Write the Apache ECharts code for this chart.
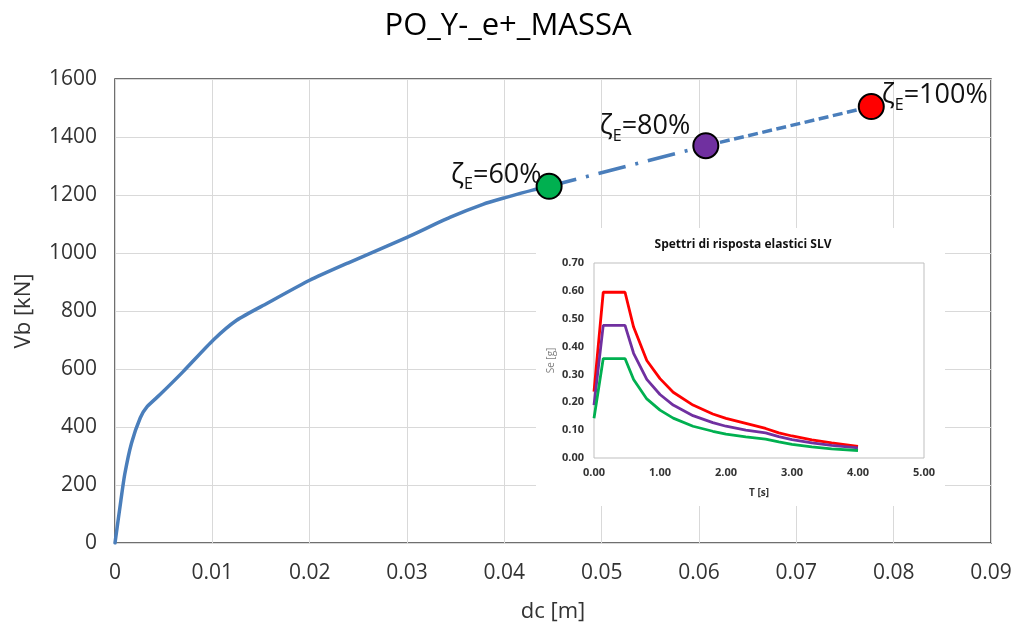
<!DOCTYPE html>
<html>
<head>
<meta charset="utf-8">
<script src="https://cdn.jsdelivr.net/npm/echarts@6/dist/echarts.min.js"></script>
<style>
  html, body { margin: 0; padding: 0; background: #fff; }
  #chart { width: 1016px; height: 628px; }
</style>
</head>
<body>
<div id="chart"></div>
<script>
// Pushover curve: roof displacement dc [m] vs base shear Vb [kN]
const curveDc = [0, 0.0006, 0.0010, 0.0017, 0.0026, 0.0033, 0.0046, 0.0070, 0.0101, 0.0125, 0.0156, 0.0200, 0.0241, 0.0300, 0.0344, 0.0378, 0.0401, 0.0429, 0.0446];
const curveVb = [0, 146, 237, 345, 432, 470, 511, 591, 700, 768, 826, 906, 968, 1054, 1123, 1168, 1191, 1217, 1230];

// Performance points at the scaled seismic demand levels
const zetaText = ['60%', '80%', '100%'];
const zetaDc = [0.0446, 0.0607, 0.0777];
const zetaVb = [1230, 1370, 1505];

// Main axis ticks
const dcTicks = [0, 0.01, 0.02, 0.03, 0.04, 0.05, 0.06, 0.07, 0.08, 0.09];
const vbTicks = [0, 200, 400, 600, 800, 1000, 1200, 1400, 1600];

// Elastic SLV response spectra (inset): period T [s] and Se [g]
const spectrumT = [0, 0.14, 0.47, 0.60, 0.80, 1.00, 1.20, 1.50, 1.80, 2.00, 2.30, 2.60, 2.80, 3.00, 3.30, 3.60, 4.00];
const se100 = [0.238, 0.595, 0.595, 0.470, 0.350, 0.285, 0.236, 0.190, 0.158, 0.142, 0.124, 0.106, 0.090, 0.079, 0.065, 0.054, 0.042];
const se80  = [0.190, 0.476, 0.476, 0.376, 0.282, 0.228, 0.190, 0.152, 0.127, 0.114, 0.100, 0.090, 0.077, 0.066, 0.054, 0.045, 0.036];
const se60  = [0.143, 0.357, 0.357, 0.282, 0.212, 0.172, 0.143, 0.114, 0.096, 0.086, 0.076, 0.068, 0.058, 0.049, 0.040, 0.033, 0.027];

const spectrumYTicks = [0, 0.1, 0.2, 0.3, 0.4, 0.5, 0.6, 0.7];
const spectrumXTicks = [0, 1, 2, 3, 4, 5];

const pairs = (xs, ys) => xs.map((x, i) => [x, ys[i]]);

const markerColors = ['#00b050', '#7030a0', '#ff0000'];
const labelPlacement = [
  { position: [6, 5], align: 'right' },
  { position: [-2, -3], align: 'right' },
  { position: [24, 5], align: 'left' }
];

const curveBlue = '#4a7ebb';
const font = '"Open Sans", "Liberation Sans", sans-serif';

const chart = echarts.init(document.getElementById('chart'), null, { renderer: 'canvas' });

const zetaRich = {
  z: { fontSize: 27, fontFamily: font, color: '#111', verticalAlign: 'top', lineHeight: 32 },
  s: { fontSize: 16, fontFamily: font, color: '#111', verticalAlign: 'top', padding: [15, 0, 0, 0] }
};

chart.setOption({
  backgroundColor: '#fff',
  animation: false,
  title: [
    {
      text: 'PO_Y-_e+_MASSA',
      left: 'center', top: 6,
      textStyle: { fontFamily: font, fontSize: 31, fontWeight: 'normal', color: '#000' }
    },
    {
      text: 'Spettri di risposta elastici SLV',
      left: 738, top: 234, textAlign: 'center', z: 6,
      textStyle: { fontFamily: font, fontSize: 12, fontWeight: 'bold', color: '#111' }
    }
  ],
  graphic: [
    {
      type: 'rect',
      z: 4,
      shape: { x: 536, y: 228, width: 409, height: 278 },
      style: { fill: '#ffffff' }
    }
  ],
  grid: [
    { left: 115, top: 79, right: 25, bottom: 82, show: true, borderColor: '#404040', borderWidth: 1.5, backgroundColor: 'transparent', z: 0 },
    { left: 594, top: 263, width: 330, height: 195, show: true, borderColor: '#bfbfbf', borderWidth: 1, z: 5 }
  ],
  xAxis: [
    {
      gridIndex: 0, type: 'value',
      min: dcTicks[0], max: dcTicks[dcTicks.length - 1], interval: dcTicks[1] - dcTicks[0],
      name: 'dc [m]', nameLocation: 'middle', nameGap: 58,
      nameTextStyle: { fontFamily: font, fontSize: 22, color: '#333' },
      axisLine: { show: false }, axisTick: { show: false },
      axisLabel: {
        fontFamily: font, fontSize: 21, color: '#333', margin: 20,
        formatter: v => (Math.abs(v) < 1e-9 ? '0' : v.toFixed(2))
      },
      splitLine: { show: true, lineStyle: { color: '#d9d9d9', width: 1 } }
    },
    {
      gridIndex: 1, type: 'value', z: 5,
      min: spectrumXTicks[0], max: spectrumXTicks[spectrumXTicks.length - 1], interval: 1,
      name: 'T [s]', nameLocation: 'middle', nameGap: 30,
      nameTextStyle: { fontFamily: font, fontSize: 10, fontWeight: 'bold', color: '#333' },
      axisLine: { show: false }, axisTick: { show: false },
      axisLabel: { fontFamily: font, fontSize: 11, fontWeight: 'bold', color: '#333', margin: 9, formatter: v => v.toFixed(2) },
      splitLine: { show: false }
    }
  ],
  yAxis: [
    {
      gridIndex: 0, type: 'value',
      min: vbTicks[0], max: vbTicks[vbTicks.length - 1], interval: vbTicks[1] - vbTicks[0],
      name: 'Vb [kN]', nameLocation: 'middle', nameGap: 80, nameRotate: 90,
      nameTextStyle: { fontFamily: font, fontSize: 22, color: '#333' },
      axisLine: { show: false }, axisTick: { show: false },
      axisLabel: { fontFamily: font, fontSize: 21, color: '#333', margin: 18, formatter: v => String(v) },
      splitLine: { show: true, lineStyle: { color: '#d9d9d9', width: 1 } }
    },
    {
      gridIndex: 1, type: 'value', z: 5,
      min: spectrumYTicks[0], max: spectrumYTicks[spectrumYTicks.length - 1], interval: 0.1,
      name: 'Se [g]', nameLocation: 'middle', nameGap: 38, nameRotate: 90,
      nameTextStyle: { fontFamily: font, fontSize: 10, color: '#7f7f7f' },
      axisLine: { show: false }, axisTick: { show: false },
      axisLabel: { fontFamily: font, fontSize: 11, fontWeight: 'bold', color: '#333', margin: 10, formatter: v => v.toFixed(2) },
      splitLine: { show: false }
    }
  ],
  series: [
    {
      name: 'curve', type: 'line', xAxisIndex: 0, yAxisIndex: 0,
      data: pairs(curveDc, curveVb),
      showSymbol: false, smooth: 0.2, z: 2,
      lineStyle: { color: curveBlue, width: 3.5, cap: 'round', join: 'round' }
    },
    {
      name: 'dashdot', type: 'line', xAxisIndex: 0, yAxisIndex: 0,
      data: pairs(zetaDc.slice(0, 2), zetaVb.slice(0, 2)),
      showSymbol: false, z: 2,
      lineStyle: { color: curveBlue, width: 3.5, type: [28, 10, 3, 10] }
    },
    {
      name: 'dashed', type: 'line', xAxisIndex: 0, yAxisIndex: 0,
      data: pairs(zetaDc.slice(1, 3), zetaVb.slice(1, 3)),
      showSymbol: false, z: 2,
      lineStyle: { color: curveBlue, width: 3.5, type: [10, 4.5] }
    },
    {
      name: 'zeta', type: 'scatter', xAxisIndex: 0, yAxisIndex: 0, z: 3,
      symbolSize: 25,
      data: zetaDc.map((x, i) => ({
        value: [x, zetaVb[i]],
        itemStyle: { color: markerColors[i], borderColor: '#000', borderWidth: 2, opacity: 1 },
        label: {
          show: true,
          position: labelPlacement[i].position,
          align: labelPlacement[i].align,
          verticalAlign: 'middle',
          formatter: '{z|ζ}{s|E}{z|=' + zetaText[i] + '}',
          rich: zetaRich
        }
      }))
    },
    {
      name: 'SLV 100%', type: 'line', xAxisIndex: 1, yAxisIndex: 1, z: 6,
      data: pairs(spectrumT, se100), showSymbol: false,
      lineStyle: { color: '#ff0000', width: 2.8 }
    },
    {
      name: 'SLV 80%', type: 'line', xAxisIndex: 1, yAxisIndex: 1, z: 6,
      data: pairs(spectrumT, se80), showSymbol: false,
      lineStyle: { color: '#7030a0', width: 2.8 }
    },
    {
      name: 'SLV 60%', type: 'line', xAxisIndex: 1, yAxisIndex: 1, z: 6,
      data: pairs(spectrumT, se60), showSymbol: false,
      lineStyle: { color: '#00b050', width: 2.8 }
    }
  ]
});
</script>
</body>
</html>
